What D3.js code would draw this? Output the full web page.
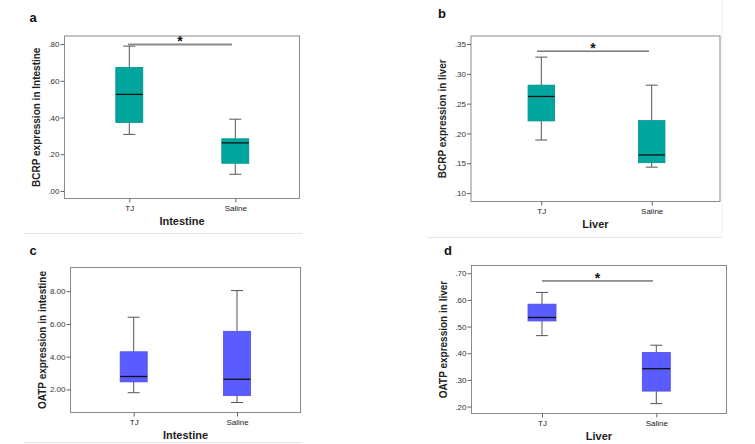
<!DOCTYPE html>
<html><head><meta charset="utf-8">
<script src="https://cdn.jsdelivr.net/npm/d3@7"></script>
<style>body{margin:0;background:#fff}svg{display:block}text{font-family:"Liberation Sans",Arial,sans-serif}</style>
</head><body><svg id="c" width="755" height="444"></svg>
<script>
// ---- data ----
const categories = ["TJ", "Saline"];
// [low whisker, Q1, median, Q3, high whisker]
const bcrpIntestine = [[0.308, 0.373, 0.526, 0.673, 0.789], [0.091, 0.151, 0.262, 0.284, 0.391]];
const bcrpLiver     = [[0.189, 0.221, 0.262, 0.281, 0.328], [0.1435, 0.151, 0.164, 0.2215, 0.281]];
const oatpIntestine = [[1.80, 2.46, 2.79, 4.30, 6.41], [1.20, 1.62, 2.62, 5.55, 8.04]];
const oatpLiver     = [[0.466, 0.521, 0.534, 0.584, 0.628], [0.211, 0.258, 0.342, 0.4025, 0.430]];
const ticksA = [0, 0.2, 0.4, 0.6, 0.8];
const ticksB = [0.10, 0.15, 0.20, 0.25, 0.30, 0.35];
const ticksC = [2, 4, 6, 8];
const ticksD = [0.2, 0.3, 0.4, 0.5, 0.6, 0.7];
const sigA = 0.798, sigB = 0.338, sigD = 0.671;

const teal = "#00a69e", blue = "#5a5cff";
const svg = d3.select("#c");

const panels = [
  {label:"a", lx:33, ly:22, data:bcrpIntestine, ticks:ticksA, fmt:v=>d3.format(".2f")(v).replace(/^0/,""),
   domain:[-0.041,0.844], box:[64.5,36,299.5,198.5], xs:[129.3,235.3], bw:27, color:teal,
   ytitle:"BCRP expression in Intestine", xtitle:"Intestine", sig:sigA, sigX:[128,232], sigStyle:"gray",
   sep:[23,302,233.5]},
  {label:"b", lx:442, ly:18, data:bcrpLiver, ticks:ticksB, fmt:v=>d3.format(".2f")(v).replace(/^0/,""),
   domain:[0.0859,0.3634], box:[471,36,720,201.5], xs:[541.3,651.7], bw:26.5, color:teal,
   ytitle:"BCRP expression in liver", xtitle:"Liver", sig:sigB, sigX:[537,649], sigStyle:"dark",
   sep:[427,722,237.5], right:true},
  {label:"c", lx:33, ly:255, data:oatpIntestine, ticks:ticksC, fmt:d3.format(".2f"),
   domain:[0.59,9.45], box:[70.5,267.5,300.5,412.5], xs:[133.7,237], bw:27, color:blue,
   ytitle:"OATP expression in intestine", xtitle:"Intestine", sep:[23,302,442.5]},
  {label:"d", lx:448, ly:255, data:oatpLiver, ticks:ticksD, fmt:v=>d3.format(".2f")(v).replace(/^0/,""),
   domain:[0.174,0.729], box:[471.5,265.5,726.5,413.5], xs:[542,656.3], bw:28, color:blue,
   ytitle:"OATP expression in liver", xtitle:"Liver", sig:sigD, sigX:[542,653], sigStyle:"dark"}
];

panels.forEach(p => {
  const [L,T,R,B] = p.box;
  const y = d3.scaleLinear().domain(p.domain).range([B,T]);
  const centers = (R-L);
  const x = d3.scalePoint().domain(categories).range(p.xs);
  const g = svg.append("g");
  if (p.sep) {
    g.append("line").attr("x1",p.sep[0]).attr("x2",p.sep[1]).attr("y1",p.sep[2]).attr("y2",p.sep[2])
      .attr("stroke","#e6e6e6").attr("stroke-width",1.2);
  }
  if (p.right) {
    g.append("line").attr("x1",p.sep[1]).attr("x2",p.sep[1]).attr("y1",0).attr("y2",p.sep[2])
      .attr("stroke","#eeeeee").attr("stroke-width",1);
  }
  g.append("text").attr("x",p.lx).attr("y",p.ly).text(p.label)
    .attr("font-weight","bold").attr("font-size",13).attr("fill","#111").attr("text-anchor","middle");
  // frame
  g.append("rect").attr("x",L).attr("y",T).attr("width",R-L).attr("height",B-T)
    .attr("fill","none").attr("stroke","#8a8a8a").attr("stroke-width",1);
  // y axis
  const ya = g.append("g").attr("transform",`translate(${L},0)`)
    .call(d3.axisLeft(y).tickValues(p.ticks).tickFormat(p.fmt).tickSize(4).tickPadding(1));
  ya.select(".domain").remove();
  ya.selectAll("line").attr("stroke","#666");
  ya.selectAll("text").attr("font-size",8).attr("fill","#333").style("font-family","Liberation Sans, Arial, sans-serif");
  // x axis
  const xa = g.append("g").attr("transform",`translate(0,${B})`)
    .call(d3.axisBottom(x).tickSize(4).tickPadding(3));
  xa.select(".domain").remove();
  xa.selectAll("line").attr("stroke","#666");
  xa.selectAll("text").attr("font-size",8).attr("fill","#222").style("font-family","Liberation Sans, Arial, sans-serif");
  // titles
  g.append("text").attr("transform",`translate(${L-25},${(T+B)/2}) rotate(-90)`)
    .attr("text-anchor","middle").attr("font-size",10).attr("font-weight","bold").attr("fill","#222")
    .text(p.ytitle);
  g.append("text").attr("x",(L+R)/2).attr("y",B+26).attr("text-anchor","middle")
    .attr("font-size",11).attr("font-weight","bold").attr("fill","#222").text(p.xtitle);
  // boxes
  categories.forEach((c,i) => {
    const [lo,q1,md,q3,hi] = p.data[i];
    const cx = x(c), hw = p.bw/2;
    const bg = g.append("g");
    bg.append("line").attr("x1",cx).attr("x2",cx).attr("y1",y(hi)).attr("y2",y(q3)).attr("stroke","#555").attr("stroke-width",1);
    bg.append("line").attr("x1",cx).attr("x2",cx).attr("y1",y(q1)).attr("y2",y(lo)).attr("stroke","#555").attr("stroke-width",1);
    bg.append("line").attr("x1",cx-6).attr("x2",cx+6).attr("y1",y(hi)).attr("y2",y(hi)).attr("stroke","#555");
    bg.append("line").attr("x1",cx-6).attr("x2",cx+6).attr("y1",y(lo)).attr("y2",y(lo)).attr("stroke","#555");
    bg.append("rect").attr("x",cx-hw).attr("y",y(q3)).attr("width",p.bw).attr("height",y(q1)-y(q3))
      .attr("fill",p.color).attr("stroke",d3.color(p.color).darker(0.4)).attr("stroke-width",0.8);
    bg.append("line").attr("x1",cx-hw).attr("x2",cx+hw).attr("y1",y(md)).attr("y2",y(md))
      .attr("stroke","#111").attr("stroke-width",1.3);
  });
  if (p.sig !== undefined) {
    const sy = y(p.sig);
    g.append("line").attr("x1",p.sigX[0]).attr("x2",p.sigX[1]).attr("y1",sy).attr("y2",sy)
      .attr("stroke", p.sigStyle==="gray" ? "#8a8a8a" : "#333")
      .attr("stroke-width", p.sigStyle==="gray" ? 2 : 1);
    g.append("text").attr("x",(p.sigX[0]+p.sigX[1])/2).attr("y",sy+2).attr("text-anchor","middle")
      .attr("font-size",14).attr("font-weight","bold").attr("fill","#111").text("*");
  }
});
</script></body></html>
